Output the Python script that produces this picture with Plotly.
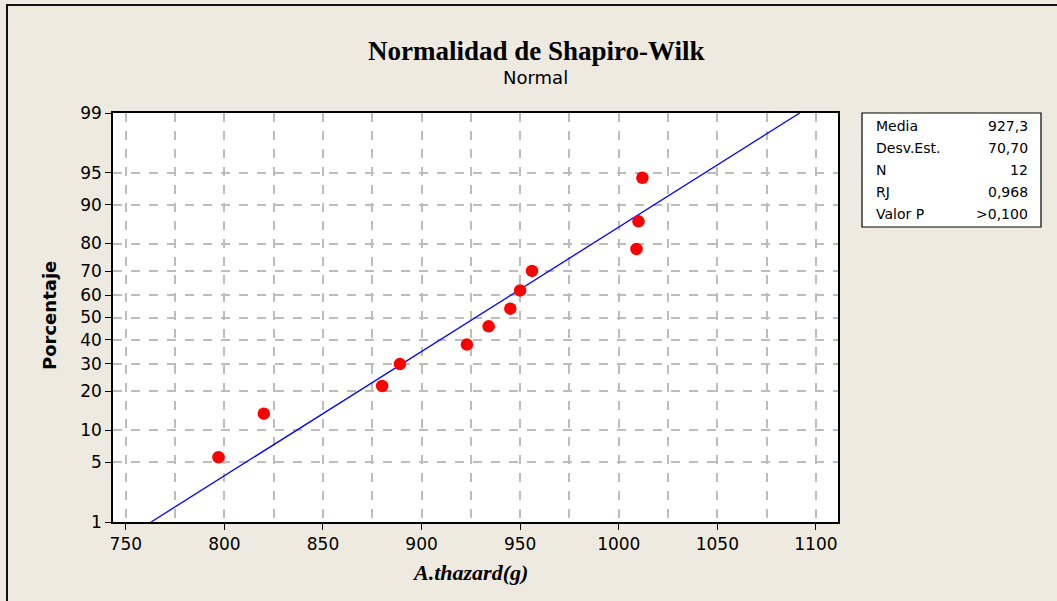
from statistics import NormalDist
import plotly.graph_objects as go

# ---- data ----
peso_g = [797, 820, 880, 889, 923, 934, 945, 950, 956, 1009, 1010, 1012]
porcentaje = [5.6, 13.7, 21.8, 29.8, 37.9, 46.0, 54.0, 62.1, 70.2, 78.2, 86.3, 94.4]
media = 927.3
desv_est = 70.70
linea_pct = [1, 99]
y_ticks = [1, 5, 10, 20, 30, 40, 50, 60, 70, 80, 90, 95, 99]
x_ticks = [750, 800, 850, 900, 950, 1000, 1050, 1100]
stat_labels = ["Media", "Desv.Est.", "N", "RJ", "Valor P"]
stat_values = ["927,3", "70,70", "12", "0,968", ">0,100"]

nd = NormalDist()
z = lambda p: nd.inv_cdf(p / 100.0)

W, H = 1057, 601
ML, MR, MT, MB = 113, 219, 113, 79
PW, PH = W - ML - MR, H - MT - MB


def fx(px):
    return (px - ML) / PW


def fy(py):
    return 1 - (py - MT) / PH


fig = go.Figure()

# fitted normal line
fig.add_trace(go.Scatter(
    x=[media + desv_est * z(p) for p in linea_pct],
    y=[z(p) for p in linea_pct],
    mode="lines", line=dict(color="#0000FF", width=1.3),
    showlegend=False, hoverinfo="skip"))

# data points
fig.add_trace(go.Scatter(
    x=peso_g, y=[z(p) for p in porcentaje],
    mode="markers", marker=dict(color="#FF0000", size=12.5, line=dict(width=0)),
    showlegend=False))

tickfont = dict(family="DejaVu Sans", size=17, color="black")
gridcol = "#BDBDBD"

fig.update_xaxes(
    range=[743.5, 1111.2], tickvals=x_ticks, ticktext=[str(v) for v in x_ticks],
    ticks="outside", ticklen=6, tickwidth=1.2, tickcolor="black",
    tickfont=tickfont, showgrid=True, gridcolor=gridcol, gridwidth=1.5,
    griddash="dash",
    minor=dict(dtick=25, tick0=750, showgrid=True, gridcolor=gridcol,
               gridwidth=1.5, griddash="dash", ticklen=0),
    showline=True, linecolor="black", linewidth=1.5, mirror=True,
    zeroline=False)

fig.update_yaxes(
    range=[z(1), z(99)], tickvals=[z(p) for p in y_ticks],
    ticktext=[str(p) for p in y_ticks],
    ticks="outside", ticklen=6, tickwidth=1.2, tickcolor="black",
    tickfont=tickfont, showgrid=True, gridcolor=gridcol, gridwidth=1.5,
    griddash="dash",
    showline=True, linecolor="black", linewidth=1.5, mirror=True,
    zeroline=False)

annotations = [
    dict(text="<b>Normalidad de Shapiro-Wilk</b>", x=fx(536), y=fy(51),
         xref="paper", yref="paper", showarrow=False, xanchor="center",
         yanchor="middle", font=dict(family="Liberation Serif", size=27, color="black")),
    dict(text="Normal", x=fx(535), y=fy(77), xref="paper", yref="paper",
         showarrow=False, xanchor="center", yanchor="middle",
         font=dict(family="DejaVu Sans", size=18, color="black")),
    dict(text="<b><i>A.thazard(g)</i></b>", x=fx(470), y=fy(572), xref="paper",
         yref="paper", showarrow=False, xanchor="center", yanchor="middle",
         font=dict(family="Liberation Serif", size=22, color="black")),
    dict(text="<b>Porcentaje</b>", x=fx(49), y=fy(316), xref="paper",
         yref="paper", showarrow=False, xanchor="center", yanchor="middle",
         textangle=-90, font=dict(family="DejaVu Sans", size=18, color="black")),
]

row_y = [126, 148, 170, 192, 214]
for lab, val, ry in zip(stat_labels, stat_values, row_y):
    annotations.append(dict(text=lab, x=fx(874), y=fy(ry), xref="paper", yref="paper",
                            showarrow=False, xanchor="left", yanchor="middle",
                            font=dict(family="DejaVu Sans", size=14, color="black")))
    annotations.append(dict(text=val, x=fx(1030), y=fy(ry), xref="paper", yref="paper",
                            showarrow=False, xanchor="right", yanchor="middle",
                            font=dict(family="DejaVu Sans", size=14, color="black")))

shapes = [
    # stats box
    dict(type="rect", xref="paper", yref="paper", x0=fx(862), x1=fx(1041),
         y0=fy(227), y1=fy(113), line=dict(color="black", width=1.2),
         fillcolor="white", layer="below"),
    # outer frame
    dict(type="rect", xref="paper", yref="paper", x0=fx(7), x1=fx(W + 10),
         y0=fy(H + 10), y1=fy(5), line=dict(color="#111111", width=2),
         fillcolor="rgba(0,0,0,0)", layer="below"),
]

fig.update_layout(
    width=W, height=H, autosize=False,
    margin=dict(l=ML, r=MR, t=MT, b=MB, pad=0),
    paper_bgcolor="#EEEAE0", plot_bgcolor="white",
    annotations=annotations, shapes=shapes, showlegend=False)

fig.write_html("out.html",
               config={"displayModeBar": False},
               post_script="document.body.style.margin='0';"
                           "document.body.style.overflow='hidden';"
                           "document.body.style.background='#EEEAE0';")
